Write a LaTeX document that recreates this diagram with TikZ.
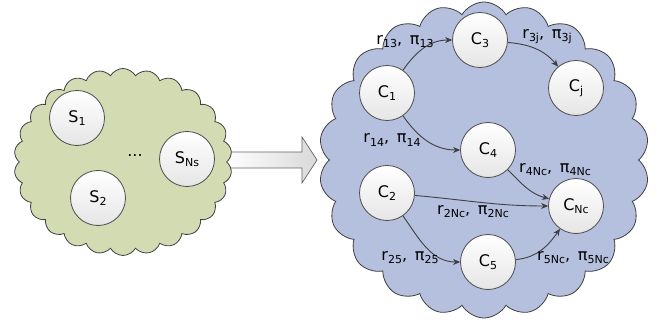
\documentclass[tikz,border=0pt]{standalone}
\usepackage{fontspec}
\setmainfont{DejaVu Sans}
\usetikzlibrary{shapes.symbols,arrows.meta}
\definecolor{leftfill}{RGB}{211,219,179}
\definecolor{rightfill}{RGB}{181,191,222}
\definecolor{edgecol}{RGB}{64,64,64}
\newcommand{\sbs}[1]{\raisebox{-0.35ex}{\fontsize{11}{11}\selectfont #1}}
\tikzset{
  nodecirc/.style={circle, draw=black!70, line width=0.8pt, minimum size=55pt, inner sep=0pt,
    top color=white, bottom color=black!10, font=\fontsize{16}{16}\selectfont},
  cloudbg/.style={cloud, draw=black!75, line width=0.8pt, cloud puffs=#1, cloud puff arc=120, aspect=1},
  lab/.style={font=\fontsize{16}{16}\selectfont, inner sep=1pt},
  link/.style={draw=edgecol, line width=0.9pt, -{Stealth[length=7pt,width=6pt]}},
  bigarrow/.style={draw=black!60, line width=0.7pt, left color=white, right color=black!15}
}
\begin{document}
\begin{tikzpicture}[x=1pt,y=1pt]
\useasboundingbox (0,0) rectangle (657,330);
% big arrow
\path[bigarrow] (225,178) -- (302,178) -- (302,193) -- (317,170) -- (302,147) -- (302,162) -- (225,162) -- cycle;
% clouds
\node[cloudbg=26, fill=leftfill, minimum width=218pt, minimum height=187pt] (leftcloud) at (123,168) {};
\node[cloudbg=22, fill=rightfill, minimum width=330pt, minimum height=316pt] (rightcloud) at (484,170) {};
% left nodes
\node[nodecirc] (s1) at (77,212) {S\sbs{1}};
\node[nodecirc] (s2) at (98,132) {S\sbs{2}};
\node[nodecirc] (sns) at (187,171) {S\sbs{Ns}};
\node[lab] (dots) at (135,174) {...};
% right nodes
\node[nodecirc] (c1) at (387,237) {C\sbs{1}};
\node[nodecirc] (c3) at (480,290) {C\sbs{3}};
\node[nodecirc] (cj) at (576,242) {C\sbs{j}};
\node[nodecirc] (c4) at (488,180) {C\sbs{4}};
\node[nodecirc] (c2) at (387,137) {C\sbs{2}};
\node[nodecirc] (cnc) at (576,124) {C\sbs{Nc}};
\node[nodecirc] (c5) at (488,68) {C\sbs{5}};
% edges
\draw[link] (c1) to[out=55,in=180] (c3);
\draw[link] (c3) to[out=-5,in=130] (cj);
\draw[link] (c1) to[out=-55,in=180] (c4);
\draw[link] (c4) to[out=-45,in=165] (cnc);
\draw[link] (c2) to[out=-5,in=180] (cnc);
\draw[link] (c2) to[out=-55,in=180] (c5);
\draw[link] (c5) to[out=5,in=-125] (cnc);
% labels
\node[lab] (l13) at (405,288) {r\sbs{13},\, π\sbs{13}};
\node[lab] (l3j) at (547,293) {r\sbs{3j},\, π\sbs{3j}};
\node[lab] (l14) at (392,190) {r\sbs{14},\, π\sbs{14}};
\node[lab] (l4nc) at (555,160) {r\sbs{4Nc},\, π\sbs{4Nc}};
\node[lab] (l2nc) at (473,118) {r\sbs{2Nc},\, π\sbs{2Nc}};
\node[lab] (l25) at (410,72) {r\sbs{25},\, π\sbs{25}};
\node[lab] (l5nc) at (573,72) {r\sbs{5Nc},\, π\sbs{5Nc}};
\end{tikzpicture}
\end{document}
